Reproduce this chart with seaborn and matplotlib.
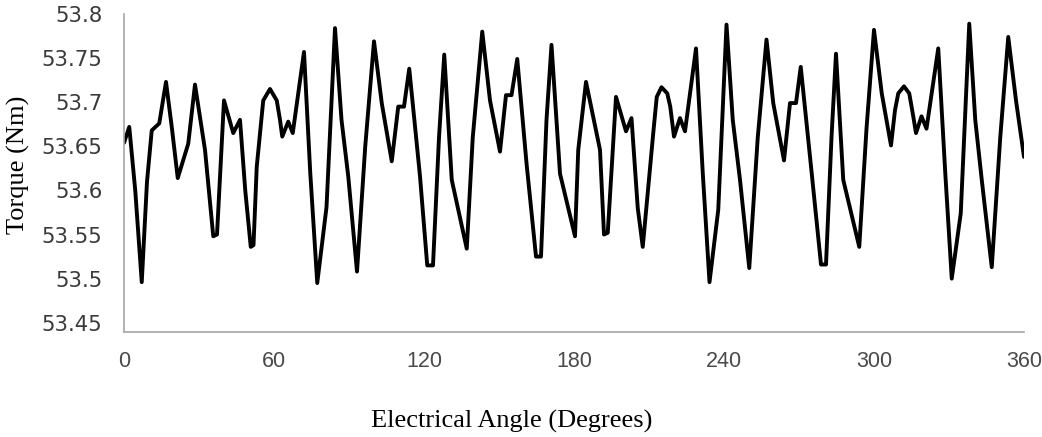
import pandas as pd
import numpy as np
import matplotlib.pyplot as plt
import seaborn as sns

# values
angle = [0, 2.1, 4.5, 7.1, 9.2, 11.1, 14.1, 16.8, 19.1, 21.5, 25.7, 28.4, 32.4, 35.7, 37.2,
         40.0, 43.7, 46.4, 48.5, 50.7, 51.8, 53.1, 55.7, 58.4, 61.1, 62.4, 63.3, 65.7, 67.5,
         72.0, 74.5, 77.3, 81.0, 84.4, 87.0, 89.7, 93.2, 96.5, 100.0, 103.1, 107.1, 109.7,
         112.0, 114.1, 118.4, 121.3, 123.6, 126.0, 128.1, 131.1, 137.1, 139.5, 143.3, 146.4,
         150.4, 152.8, 155.0, 157.3, 161.0, 164.8, 166.8, 169.0, 171.0, 174.4, 180.4, 181.7,
         184.8, 190.4, 192.0, 193.5, 196.8, 200.8, 203.0, 205.5, 207.5, 211.7, 213.1, 215.0,
         217.3, 218.5, 220.0, 222.4, 224.4, 228.8, 231.5, 234.2, 237.7, 241.0, 243.5, 246.4,
         250.1, 253.5, 257.0, 259.7, 264.0, 266.4, 268.8, 270.7, 275.1, 278.8, 280.8, 283.0,
         284.8, 287.7, 294.1, 297.0, 300.0, 303.1, 306.8, 308.4, 309.7, 312.0, 314.1, 315.7,
         316.8, 319.0, 321.0, 325.7, 328.5, 331.1, 334.7, 338.1, 340.5, 343.1, 347.1, 350.5,
         353.7, 356.8, 360.0]
torque = [53.654, 53.672, 53.600, 53.496, 53.610, 53.668, 53.676, 53.723, 53.672, 53.614,
          53.653, 53.720, 53.646, 53.548, 53.550, 53.702, 53.665, 53.680, 53.600, 53.536,
          53.538, 53.627, 53.702, 53.715, 53.702, 53.680, 53.661, 53.678, 53.665, 53.757,
          53.620, 53.495, 53.581, 53.784, 53.680, 53.616, 53.508, 53.650, 53.769, 53.699,
          53.633, 53.695, 53.695, 53.738, 53.616, 53.515, 53.515, 53.660, 53.754, 53.612,
          53.534, 53.660, 53.780, 53.702, 53.644, 53.708, 53.708, 53.749, 53.631, 53.525,
          53.525, 53.680, 53.765, 53.619, 53.548, 53.646, 53.723, 53.646, 53.550, 53.552,
          53.706, 53.667, 53.682, 53.580, 53.536, 53.665, 53.706, 53.717, 53.710, 53.695,
          53.661, 53.682, 53.667, 53.761, 53.620, 53.496, 53.578, 53.788, 53.680, 53.612,
          53.512, 53.660, 53.771, 53.699, 53.634, 53.699, 53.699, 53.740, 53.619, 53.516,
          53.516, 53.660, 53.755, 53.612, 53.536, 53.670, 53.782, 53.710, 53.651, 53.691,
          53.710, 53.718, 53.710, 53.684, 53.665, 53.684, 53.670, 53.761, 53.620, 53.500,
          53.574, 53.789, 53.680, 53.612, 53.513, 53.660, 53.774, 53.702, 53.638]
x_ticks = [0, 60, 120, 180, 240, 300, 360]
y_ticks = [53.45, 53.5, 53.55, 53.6, 53.65, 53.7, 53.75, 53.8]
y_tick_labels = ["53.45", "53.5", "53.55", "53.6", "53.65", "53.7", "53.75", "53.8"]

df = pd.DataFrame({"angle": angle, "torque": torque})

sns.set_style("white")
plt.rcParams['font.family'] = ['DejaVu Sans']

fig = plt.figure(figsize=(10.42, 4.37), dpi=100)
ax = fig.add_axes([124 / 1042, 1 - 332 / 437, 900 / 1042, 318 / 437])

sns.lineplot(data=df, x="angle", y="torque", ax=ax, color="black", linewidth=2.8)
ax.lines[0].set_solid_joinstyle("round")

ax.set_xlim(0, 360)
ax.set_ylim(53.4395, 53.8)
ax.set_xticks(x_ticks)
ax.set_yticks(y_ticks)
ax.set_yticklabels(y_tick_labels)

grey = "#a6a6a6"
for s in ["top", "right"]:
    ax.spines[s].set_visible(False)
for s in ["left", "bottom"]:
    ax.spines[s].set_color(grey)
    ax.spines[s].set_linewidth(1.2)

ax.tick_params(axis="y", length=6.5, width=1.2, color=grey, pad=9,
               labelsize=15.3, labelcolor="#3a3a3a")
ax.tick_params(axis="x", length=0, pad=14, labelsize=15.5, labelcolor="#4a4a4a")
for lab in ax.get_xticklabels():
    lab.set_family("Liberation Sans")

ax.set_xlabel("Electrical Angle (Degrees)", family="Liberation Serif", fontsize=19, color="black")
ax.set_ylabel("Torque (Nm)", family="Liberation Serif", fontsize=19, color="black")
ax.xaxis.set_label_coords((512 - 124) / 900, -(410 - 332) / 318)
ax.yaxis.set_label_coords(-(124 - 30) / 900, (332 - 165) / 318)

fig.savefig("out.png", dpi=100)
